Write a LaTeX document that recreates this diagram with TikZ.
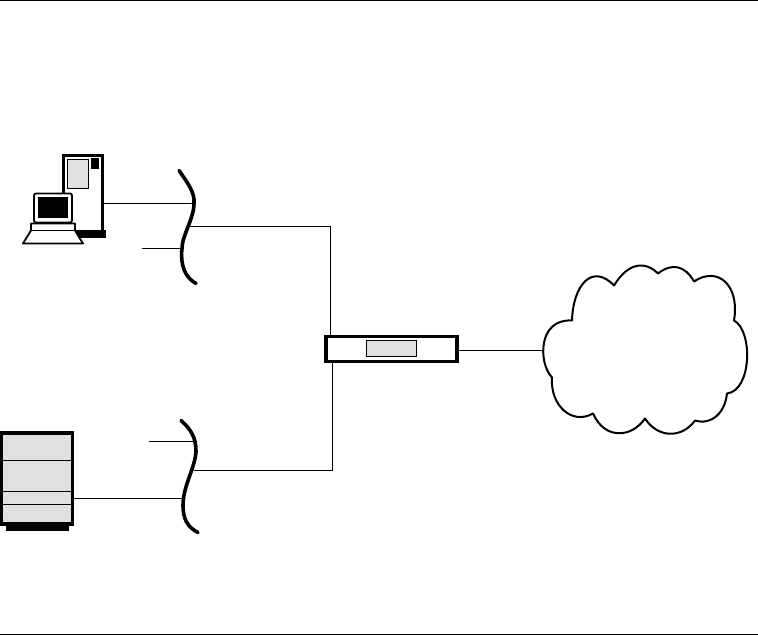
\documentclass[tikz,border=0pt]{standalone}
\usetikzlibrary{positioning,calc}
\definecolor{panelgray}{gray}{0.88}

\begin{document}
\begin{tikzpicture}[
  x=1pt, y=-1pt,
  box/.style={rectangle, draw, inner sep=0pt, outer sep=0pt, line width=3.5pt, fill=white},
  panel/.style={rectangle, draw, inner sep=0pt, outer sep=0pt, line width=1pt, fill=panelgray},
  solid block/.style={rectangle, fill=black, inner sep=0pt, outer sep=0pt},
  wire/.style={line width=1pt},
  cable/.style={line width=3.6pt, line cap=round},
]
  \useasboundingbox (0,-0.5) rectangle (758,635.5);

  % page rules
  \coordinate (topL) at (0,0.5);
  \coordinate (topR) at (758,0.5);
  \coordinate (botL) at (0,633.5);
  \coordinate (botR) at (758,633.5);
  \draw[wire] (topL) -- (topR);
  \draw[wire] (botL) -- (botR);

  % cables
  \coordinate (capA) at (179,170);
  \coordinate (tapA1) at (194,203);
  \coordinate (tapA2) at (190,226);
  \coordinate (tapA3) at (182,248);
  \coordinate (stubA) at (142,248);
  \coordinate (capB) at (181,420);
  \coordinate (tapB1) at (195,441);
  \coordinate (tapB2) at (194,470);
  \coordinate (tapB3) at (184,498);
  \coordinate (stubB) at (149,441);

  % router
  \node[box, minimum width=131pt, minimum height=25pt] (router) at (391.5,348.5) {};
  \node[panel, minimum width=50pt, minimum height=16pt] (router panel) at (391,348) {};

  % pc
  \node[solid block, minimum width=29pt, minimum height=8pt] (tower foot) at (91.5,234) {};
  \node[box, minimum width=39pt, minimum height=76pt] (tower) at (83,193) {};
  \node[panel, minimum width=21pt, minimum height=29pt] (tower panel) at (78,173.5) {};
  \node[solid block, minimum width=8pt, minimum height=11pt] (tower led) at (95,163.5) {};
  \draw[line width=1.8pt, fill=white, line join=round] (31,223) -- (75,223) -- (75,230) -- (83,243) -- (23,243) -- (31,230) -- cycle;
  \draw[wire] (31,230) -- (75,230);
  \node[box, line width=1.8pt, rounded corners=2pt, minimum width=38pt, minimum height=29pt] (monitor) at (53,207.5) {};
  \node[solid block, minimum width=30pt, minimum height=21pt] (screen) at (53,207.5) {};

  % server
  \node[solid block, minimum width=63pt, minimum height=6pt] (server foot) at (37.5,527) {};
  \node[box, fill=panelgray, minimum width=71pt, minimum height=91pt] (server) at (37,478) {};
  \draw[wire] (server.west |- 0,460) -- (server.east |- 0,460);
  \draw[wire] (server.west |- 0,491) -- (server.east |- 0,491);
  \draw[wire] (server.west |- 0,504) -- (server.east |- 0,504);

  % wires
  \draw[wire] (tapA1) -- (tapA1 -| tower.east);
  \draw[wire] (stubA) -- (tapA3);
  \draw[wire] (tapA2) -| ($(router.north west)+(4.5,0)$);
  \draw[wire] (stubB) -- (tapB1);
  \draw[wire] (tapB3) -- (tapB3 -| server.east);
  \draw[wire] (tapB2) -| ($(router.south west)+(6.5,0)$);

  \draw[cable] (capA) .. controls (188,183) and (195,192) .. (tapA1)
    .. controls (194,218) and (182,235) .. (tapA3)
    .. controls (180,264) and (185,277) .. (196,283);
  \draw[cable] (capB) .. controls (190,428) and (196,436) .. (196,451)
    .. controls (195,468) and (183,485) .. (183,505)
    .. controls (183,519) and (188,527) .. (198,532);

  % cloud
  \coordinate (cloud port) at (543,350);
  \draw[wire] (router.east |- cloud port) -- (cloud port);
  \draw[line width=2pt, line join=round] (572,320)
    .. controls (573,285) and (592,262) .. (614,285)
    .. controls (628,262) and (645,260) .. (658,273)
    .. controls (672,262) and (685,265) .. (694,281)
    .. controls (718,265) and (740,285) .. (734,320)
    .. controls (753,330) and (752,390) .. (727,393)
    .. controls (725,412) and (712,425) .. (695,420)
    .. controls (682,438) and (658,438) .. (645,418)
    .. controls (632,437) and (605,440) .. (593,413)
    .. controls (572,425) and (550,405) .. (552,377)
    .. controls (538,362) and (538,318) .. (572,320)
    -- cycle;
\end{tikzpicture}
\end{document}
